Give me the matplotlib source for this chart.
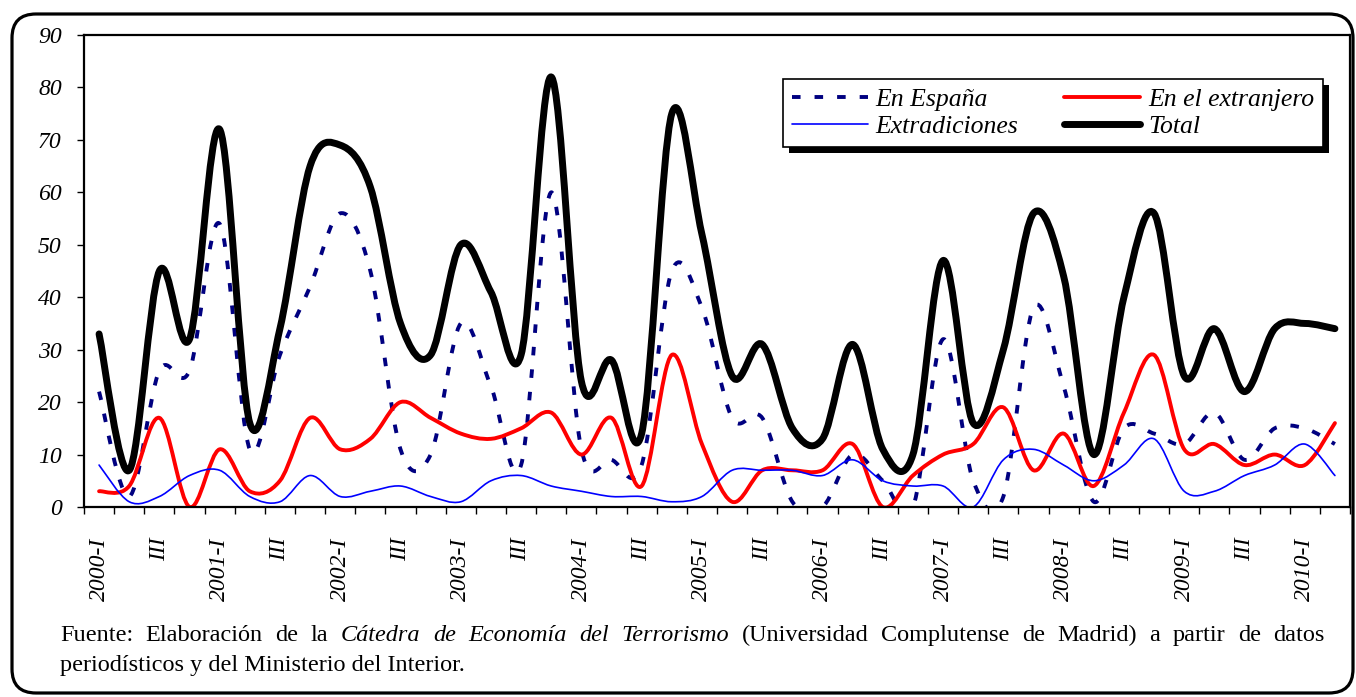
import numpy as np
import matplotlib
matplotlib.use('Agg')
import matplotlib.pyplot as plt
from matplotlib.path import Path
from matplotlib.patches import PathPatch, FancyBboxPatch, Rectangle
from matplotlib.lines import Line2D
from matplotlib.transforms import IdentityTransform

plt.rcParams['font.family'] = ['Liberation Serif', 'DejaVu Serif']

# Quarterly categories, 2000-I .. 2010-II
years = range(2000, 2011)
quarters = [f'{y}-I' if q == 'I' else q for y in years for q in ['I', 'II', 'III', 'IV']][:42]

en_espana = [22, 2, 26, 26, 54, 11, 29, 42, 56, 45,
             11, 10, 35, 23, 8, 60, 11, 9, 8, 45,
             38, 17, 17, 1, 0, 10, 5, 0, 32, 5,
             2, 38, 23, 1, 15, 14, 12, 18, 9, 15,
             15, 12]
en_extranjero = [3, 4, 17, 0, 11, 3, 5, 17, 11, 13,
                 20, 17, 14, 13, 15, 18, 10, 17, 4, 29,
                 12, 1, 7, 7, 7, 12, 0, 6, 10, 12,
                 19, 7, 14, 4, 18, 29, 11, 12, 8, 10,
                 8, 16]
extradiciones = [8, 1, 2, 6, 7, 2, 1, 6, 2, 3,
                 4, 2, 1, 5, 6, 4, 3, 2, 2, 1,
                 2, 7, 7, 7, 6, 9, 5, 4, 4, 0,
                 9, 11, 8, 5, 8, 13, 3, 3, 6, 8,
                 12, 6]
total = [33, 7, 45, 32, 72, 16, 34, 65, 69, 61,
         35, 29, 50, 41, 29, 82, 24, 28, 14, 75,
         52, 25, 31, 15, 13, 31, 11, 10, 47, 16,
         30, 56, 44, 10, 40, 56, 25, 34, 22, 34,
         35, 34]

caption_1 = ['Fuente: Elaboración de la', 'Cátedra de Economía del Terrorismo',
             '(Universidad Complutense de Madrid) a partir de datos']
caption_2 = 'periodísticos y del Ministerio del Interior.'


def smooth_path(y):
    # Excel-like smoothed line: cubic Bezier segments through every point
    pts = np.column_stack([np.arange(len(y), dtype=float), np.asarray(y, dtype=float)])
    n = len(pts)
    verts = [pts[0]]
    codes = [Path.MOVETO]
    for i in range(n - 1):
        p0 = pts[max(i - 1, 0)]
        p1 = pts[i]
        p2 = pts[i + 1]
        p3 = pts[min(i + 2, n - 1)]
        verts += [p1 + (p2 - p0) / 6, p2 - (p3 - p1) / 6, p2]
        codes += [Path.CURVE4] * 3
    return Path(verts, codes)


fig = plt.figure(figsize=(13.56, 6.97), dpi=100)
ax = fig.add_axes([84 / 1356, 1 - 507 / 697, (1350 - 84) / 1356, (507 - 35) / 697])

series = [
    (en_espana, 'En España', dict(color='#000080', lw=2.8, ls=(0, (2.2, 3.6)), cap='butt')),
    (en_extranjero, 'En el extranjero', dict(color='#ff0000', lw=2.8, ls='-', cap='round')),
    (extradiciones, 'Extradiciones', dict(color='#0000ff', lw=1.2, ls='-', cap='round')),
    (total, 'Total', dict(color='black', lw=5.0, ls='-', cap='round')),
]

handles = {}
for values, name, st in series:
    patch = PathPatch(smooth_path(values), facecolor='none', edgecolor=st['color'],
                      lw=st['lw'], linestyle=st['ls'], capstyle=st['cap'], joinstyle='round')
    ax.add_patch(patch)
    handles[name] = Line2D([], [], color=st['color'], lw=st['lw'], ls=st['ls'],
                           solid_capstyle='round', dash_capstyle='butt')

ax.set_xlim(-0.5, 41.5)
ax.set_ylim(0, 90)

# category boundaries get the tick marks, every other category gets a label
ax.set_xticks(np.arange(-0.5, 42, 1))
ax.tick_params(axis='x', which='major', labelbottom=False)
ax.set_xticks(np.arange(0, 42, 2), quarters[::2], minor=True,
              rotation=90, fontstyle='italic', fontsize=17)
ax.tick_params(axis='x', which='minor', length=0, pad=22)
ax.set_yticks(range(0, 91, 10), [str(v) for v in range(0, 91, 10)],
              fontstyle='italic', fontsize=17)
ax.tick_params(axis='both', which='major', direction='out', length=5, width=1, pad=11)
for s in ax.spines.values():
    s.set_linewidth(1.6)

order = ['En España', 'Extradiciones', 'En el extranjero', 'Total']
leg = ax.legend([handles[k] for k in order], order, ncol=2, loc='upper left',
                bbox_to_anchor=(0.552, 0.907), borderaxespad=0, fancybox=False,
                edgecolor='black', framealpha=1, handlelength=2.95, handletextpad=0.3,
                columnspacing=1.8, labelspacing=0.15, borderpad=0.35,
                prop={'style': 'italic', 'size': 18.5})
leg.get_frame().set_linewidth(1.2)

# outer rounded frame
fig.add_artist(FancyBboxPatch((12, 4), 1341, 679, boxstyle='round,pad=0,rounding_size=24',
                              transform=IdentityTransform(), fill=False, ec='black', lw=2.3))

fig.canvas.draw()
renderer = fig.canvas.get_renderer()

# legend shadow
bb = leg.legendPatch.get_window_extent(renderer)
ax.add_patch(Rectangle((bb.x0 + 6, bb.y0 - 6), bb.width, bb.height, transform=IdentityTransform(),
                       fc='black', ec='none', zorder=leg.get_zorder() - 0.1, clip_on=False))

# justified first caption line
words = []
for k, part in enumerate(caption_1):
    for w in part.split():
        words.append(fig.text(0, 56, w, transform=IdentityTransform(), fontsize=17.5,
                              fontstyle='italic' if k == 1 else 'normal', va='baseline'))
widths = [t.get_window_extent(renderer).width for t in words]
gap = (1325 - 60 - sum(widths)) / (len(words) - 1)
x = 60
for t, w in zip(words, widths):
    t.set_x(x)
    x += w + gap
fig.text(60, 26, caption_2, transform=IdentityTransform(), fontsize=17.5, va='baseline')

fig.savefig('out.png', dpi=100)
